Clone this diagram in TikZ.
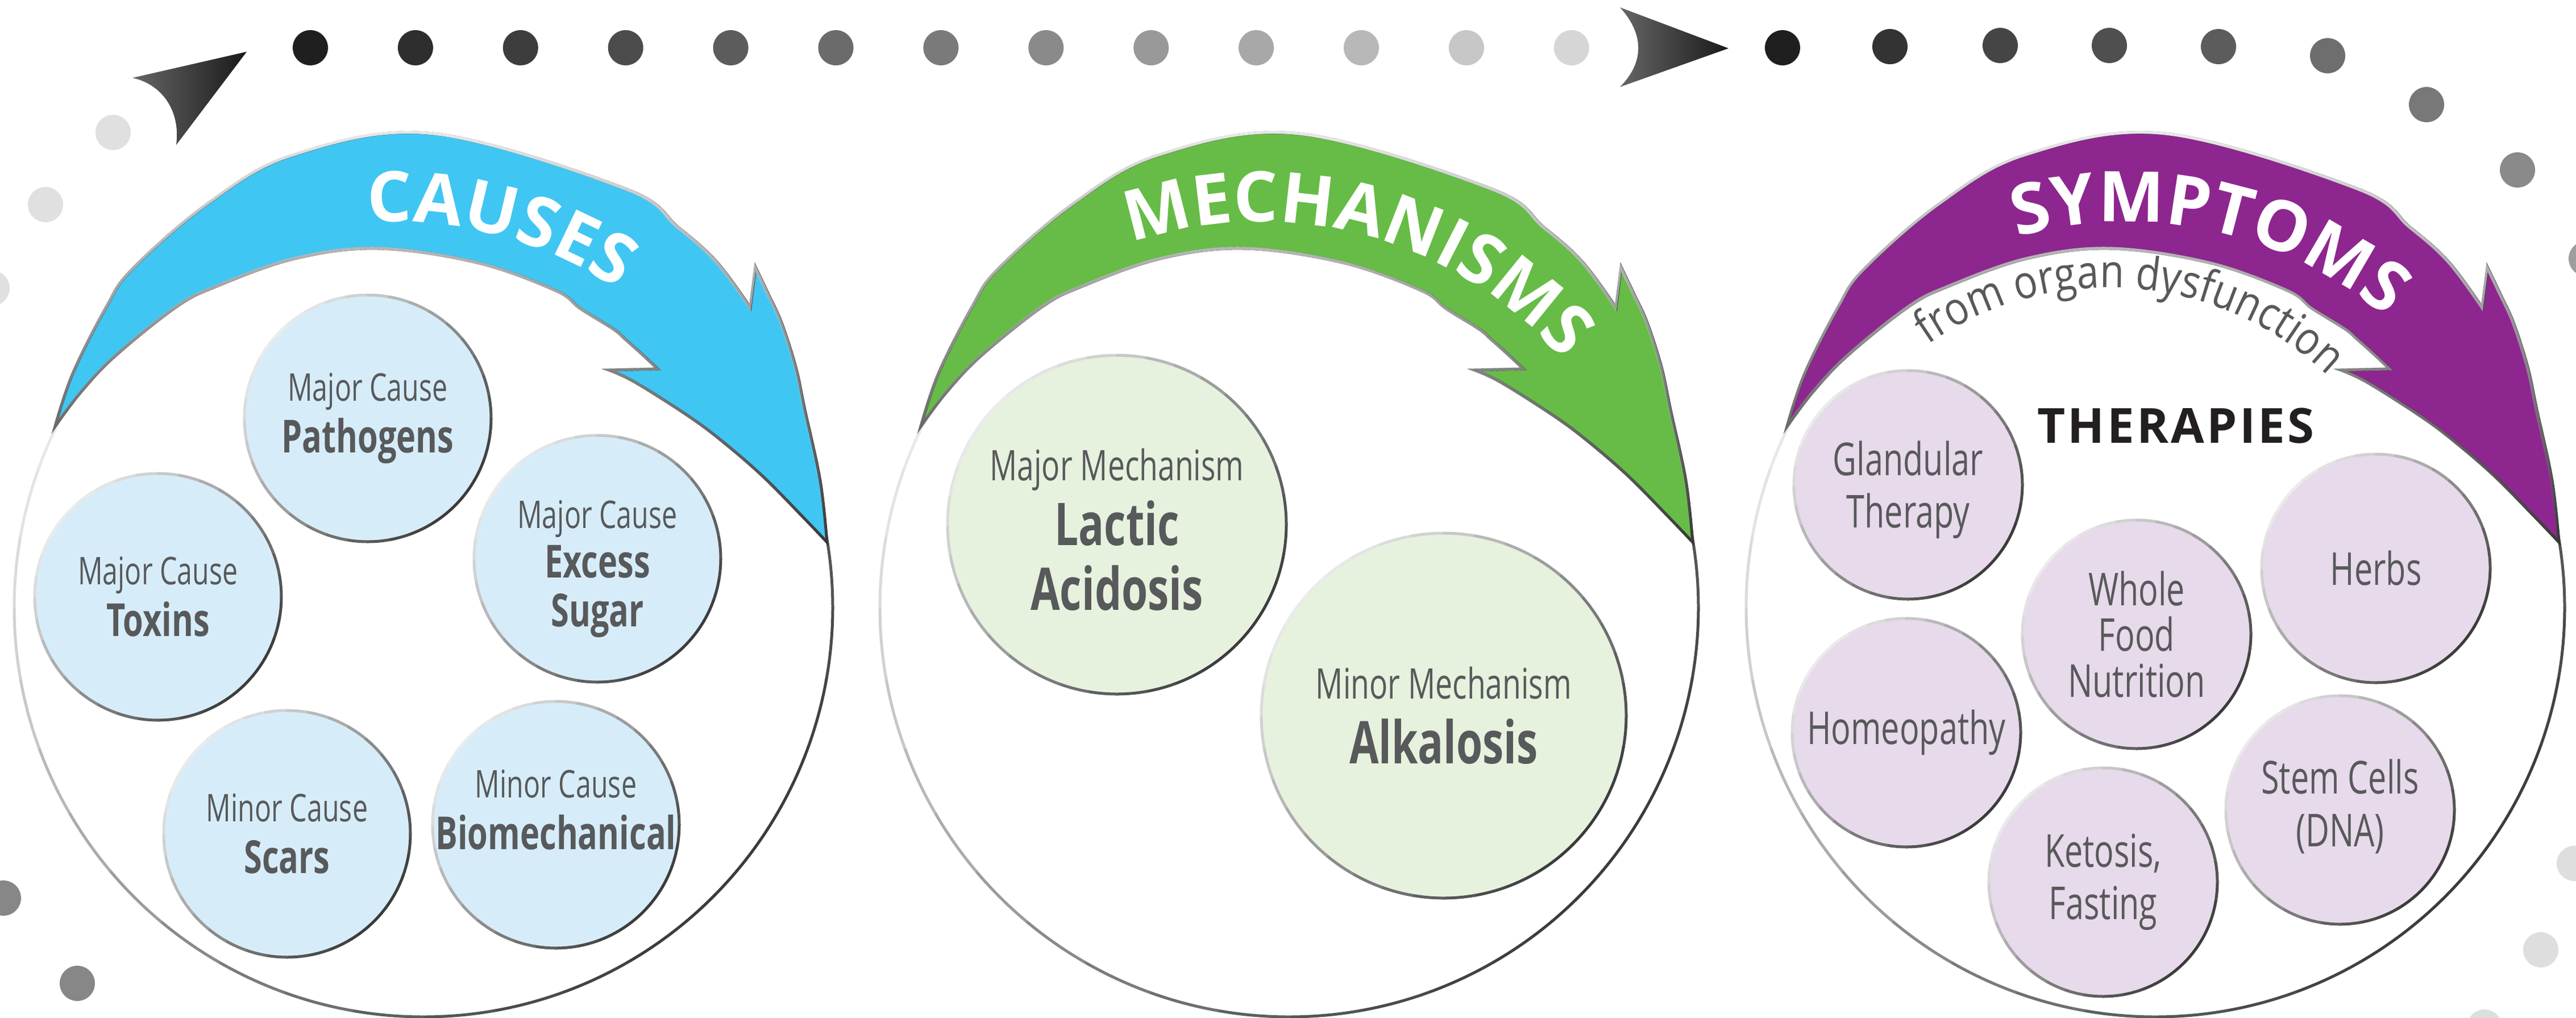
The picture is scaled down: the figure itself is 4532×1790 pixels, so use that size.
\documentclass[tikz,border=0pt]{standalone}
\usepackage{fontspec}
\setmainfont{Open Sans}
\newfontfamily\narrowfont[FakeStretch=0.72]{Open Sans}
\newfontfamily\subfamily[FakeStretch=0.86]{Open Sans}
\usepackage{tikz}
\usetikzlibrary{decorations.text, fadings}

\definecolor{causeblue}{HTML}{40C6F2}
\definecolor{mechgreen}{HTML}{66BC46}
\definecolor{symppurple}{HTML}{8E268F}
\definecolor{causefill}{HTML}{D6EDF9}
\definecolor{mechfill}{HTML}{E6F1DE}
\definecolor{sympfill}{HTML}{E7DAEA}
\definecolor{textgray}{HTML}{58595B}
\definecolor{inkblack}{HTML}{231F20}

\tikzfading[name=fade down, top color=transparent!0, bottom color=transparent!100]

\tikzstyle{panel} = [circle, fill=white, minimum size=14.4cm, inner sep=0pt]
\tikzstyle{ring} = [line width=0.05cm, line cap=round]
\tikzstyle{band} = [draw=black!78, line width=0.05cm, postaction={draw=black!8, line width=0.05cm, path fading=fade down}]
\tikzstyle{ccell} = [circle, fill=causefill, minimum size=4.34cm, inner sep=0pt, text=textgray, align=center, font=\narrowfont\fontsize{19.1pt}{25.9pt}\selectfont]
\tikzstyle{mcell} = [circle, fill=mechfill, inner sep=0pt, text=textgray, align=center, font=\narrowfont\fontsize{21.1pt}{32.5pt}\selectfont]
\tikzstyle{scell} = [circle, fill=sympfill, minimum size=4.02cm, inner sep=0pt, text=textgray, align=center, font=\narrowfont\fontsize{22.7pt}{26.2pt}\selectfont]
\tikzstyle{label} = [align=center, text=textgray]

\newcommand\cbold[1]{{\bfseries\fontsize{22.8pt}{25.9pt}\selectfont #1}}
\newcommand\mbold[1]{{\bfseries\fontsize{29.5pt}{32.5pt}\selectfont #1}}
\newcommand\bandfont{\bfseries\fontsize{35pt}{35pt}\selectfont}
\newcommand\subtitlefont{\subfamily\fontsize{23pt}{24pt}\selectfont}

% outline of a circle, light at top left, dark at bottom right
\newcommand\ringline[2]{%
  \foreach \a in {0,10,...,350}{%
    \pgfmathtruncatemacro\tone{8+70*(1+cos(\a+5-40))/2}%
    \draw[ring, draw=black!\tone] ([shift={(\a:#2)}]#1.center) arc[start angle=\a, delta angle=10, radius=#2];
  }}

% curved arrow over a panel (coordinates relative to the panel centre)
\newcommand\bandarrow[1]{%
  \filldraw[band, fill=#1] (-648,-319)
    -- plot[smooth, tension=0.6] coordinates {(-648,-319) (-617,-412) (-558,-529) (-512,-596) (-378,-712) (-227,-797) (16,-834) (355,-737) (448,-669) (516,-608) (575,-528)}
    -- (584,-599)
    -- plot[smooth, tension=0.6] coordinates {(584,-599) (607,-551) (630,-501) (655,-423) (671,-348) (698,-223) (710,-115)}
    -- plot[smooth, tension=0.6] coordinates {(710,-115) (669,-158) (598,-230) (530,-289) (469,-335) (373,-396) (326,-418)}
    -- (412,-420)
    -- plot[smooth, tension=0.6] coordinates {(412,-420) (382,-448) (355,-472) (334,-490) (276,-526) (232,-558) (94,-607) (-80,-632) (-227,-614) (-365,-565) (-435,-529) (-541,-444) (-602,-380) (-648,-319)}
    -- cycle;
}

% white title along the arrow
\newcommand\bandtitle[3]{%
  \begin{scope}[shift={(-50,21)}]
    \path[decorate, decoration={text along path, text={|\bandfont|#1}, text align={fit to path}, text color=white}]
      (#2:700) arc[start angle=#2, end angle=#3, radius=700];
  \end{scope}
}

\begin{document}
\begin{tikzpicture}[x=0.01cm, y=-0.01cm]
  \useasboundingbox (0,0) rectangle (4532,1790);

  % dotted track with its two heads
  \foreach \i in {0,...,12} {
    \pgfmathtruncatemacro\tone{88-6*\i}
    \fill[black!\tone] (546+184.9*\i, 84) circle[radius=31];
  }
  \foreach \x/\y/\t in {3136/84/88, 3325/82/80, 3519/80/73, 3711/80/69, 3903/82/64, 4095/98/57, 4269/184/53, 4429/299/46, 4550/455/38}
    \fill[black!\t] (\x,\y) circle[radius=31];
  \foreach \x/\y/\t in {4529/1519/13, 4470/1671/13, 4371/1807/13, 6/1580/47, 136/1730/47, -14/507/12, 80/360/12, 199/233/12}
    \fill[black!\t] (\x,\y) circle[radius=31];
  \shade[left color=black!60, right color=black!90] (233,137) -- (434,91) -- (310,255) .. controls (318,195) and (285,148) .. cycle;
  \shade[left color=black!60, right color=black!90] (2850,13) -- (3041,85) -- (2850,153) .. controls (2893,110) and (2893,60) .. cycle;

  % panels
  \node[panel] (causes) at (745,1069) {};
  \node[panel] (mechanisms) at (2268,1069) {};
  \node[panel] (symptoms) at (3792,1069) {};
  \foreach \n in {causes, mechanisms, symptoms} {\ringline{\n}{720}}

  \begin{scope}[shift={(745,1069)}]
    \bandarrow{causeblue}
    \bandtitle{CAUSES}{-94}{-56}
  \end{scope}
  \begin{scope}[shift={(2268,1069)}]
    \bandarrow{mechgreen}
    \bandtitle{MECHANISMS}{-109}{-43}
  \end{scope}
  \begin{scope}[shift={(3792,1069)}]
    \bandarrow{symppurple}
    \bandtitle{SYMPTOMS}{-106}{-51}
  \end{scope}

  \begin{scope}[shift={(3710,1062)}]
    \path[decorate, decoration={text along path, text={|\subtitlefont|from organ dysfunction}, text align={fit to path}, text color=textgray}]
      (-125:556) arc[start angle=-125, end angle=-47, radius=556];
  \end{scope}

  % causes
  \node[ccell] (pathogens) at (647,736) {Major Cause\\\cbold{Pathogens}};
  \node[ccell] (excess) at (1051,983) {};
  \node[label, font=\narrowfont\fontsize{19.1pt}{24.5pt}\selectfont] (excesstext) at (1051,1001) {Major Cause\\\cbold{Excess}\\\cbold{Sugar}};
  \node[ccell] (toxins) at (278,1050) {Major Cause\\\cbold{Toxins}};
  \node[ccell] (scars) at (505,1467) {Minor Cause\\\cbold{Scars}};
  \node[ccell] (biomech) at (978,1451) {};
  \node[label, font=\narrowfont\fontsize{19.1pt}{25.9pt}\selectfont] (biomechtext) at (978,1425) {Minor Cause\\\cbold{Biomechanical}};

  % mechanisms
  \node[mcell, minimum size=5.96cm] (lactic) at (1965,923) {};
  \node[label, font=\narrowfont\fontsize{21.1pt}{32.5pt}\selectfont] (lactictext) at (1965,932) {Major Mechanism\\\mbold{Lactic}\\\mbold{Acidosis}};
  \node[mcell, minimum size=6.42cm] (alkalosis) at (2540,1259) {Minor Mechanism\\\mbold{Alkalosis}};

  % therapies
  \node[font=\bfseries\fontsize{24.2pt}{24pt}\selectfont\addfontfeature{LetterSpace=5}, text=inkblack] (therapies) at (3828,749) {THERAPIES};
  \node[scell] (glandular) at (3357,853) {};
  \node[label, font=\narrowfont\fontsize{22.7pt}{26.2pt}\selectfont] (glandulartext) at (3357,862) {Glandular\\Therapy};
  \node[scell] (herbs) at (4180,1000) {Herbs};
  \node[scell, font=\narrowfont\fontsize{22.7pt}{23pt}\selectfont] (wholefood) at (3759,1116) {Whole\\Food\\Nutrition};
  \node[scell] (homeopathy) at (3354,1289) {Homeopathy};
  \node[scell] (stemcells) at (4117,1425) {};
  \node[label, font=\narrowfont\fontsize{22.7pt}{26.2pt}\selectfont] (stemtext) at (4117,1419) {Stem Cells\\(DNA)};
  \node[scell] (ketosis) at (3700,1552) {Ketosis,\\Fasting};

  \foreach \n/\r in {pathogens/217, excess/217, toxins/217, scars/217, biomech/217, lactic/298, alkalosis/321, glandular/201, herbs/201, wholefood/201, homeopathy/201, stemcells/201, ketosis/201} {\ringline{\n}{\r}}
\end{tikzpicture}
\end{document}
